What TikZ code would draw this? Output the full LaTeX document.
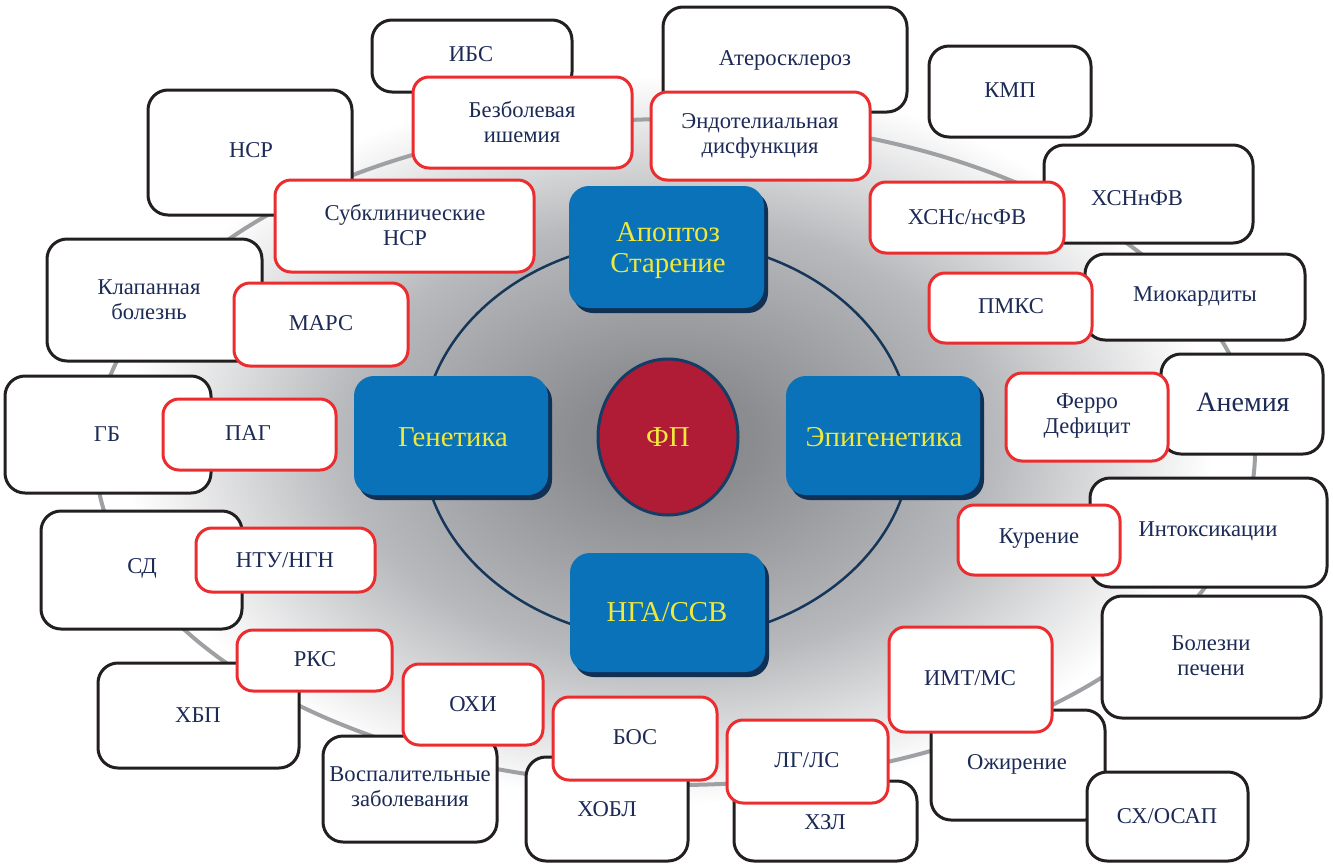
\documentclass[tikz,border=0pt]{standalone}
\usepackage{fontspec}
\setmainfont{Liberation Serif}
\usetikzlibrary{shadows,shapes.geometric}
\definecolor{navytext}{RGB}{28,42,86}
\definecolor{boxblack}{RGB}{35,31,32}
\definecolor{boxred}{RGB}{235,45,48}
\definecolor{ringgray}{RGB}{158,160,163}
\definecolor{innernavy}{RGB}{22,55,90}
\definecolor{bluefill}{RGB}{10,114,184}
\definecolor{blueshadow}{RGB}{16,48,86}
\definecolor{fpred}{RGB}{176,28,53}
\definecolor{fpborder}{RGB}{20,60,100}
\definecolor{ytext}{RGB}{240,232,60}
\definecolor{bgcA}{RGB}{134,136,140}
\definecolor{bgcB}{RGB}{138,140,144}
\definecolor{bgcC}{RGB}{184,185,188}
\pgfdeclareradialshading{bgshade}{\pgfpoint{0bp}{0bp}}{color(0bp)=(bgcA); color(4bp)=(bgcB); color(15bp)=(bgcC); color(25bp)=(white); color(50bp)=(white)}
\tikzset{
  blkbox/.style={draw=boxblack, line width=3pt, fill=white, rounded corners=20pt, inner sep=0pt},
  redbox/.style={draw=boxred, line width=3pt, fill=white, rounded corners=16pt, inner sep=0pt},
  txt/.style={text=navytext, align=center, inner sep=0pt, font=\fontsize{22.6}{25}\selectfont},
  ytxt/.style={text=ytext, align=center, inner sep=0pt, font=\fontsize{28.8}{31}\selectfont},
  bluebox/.style={fill=bluefill, rounded corners=20pt, inner sep=0pt,
    drop shadow={shadow xshift=4pt, shadow yshift=-5pt, fill=blueshadow, opacity=1}}
}
\newcommand\bx[9]{%
  \node[#1, minimum width={(#5-#3)*1pt}, minimum height={(#6-#4)*1pt}] (#2) at ({(#3+#5)/2},{(#4+#6)/2}) {};
  \node[txt] (#2-t) at (#7,#8) {#9};
}
\newcommand\bbx[8]{%
  \node[bluebox, minimum width={(#4-#2)*1pt}, minimum height={(#5-#3)*1pt}] (#1) at ({(#2+#4)/2},{(#3+#5)/2}) {};
  \node[ytxt] (#1-t) at (#6,#7) {#8};
}
\begin{document}
\begin{tikzpicture}[x=1pt,y=-1pt]
\useasboundingbox (0,0) rectangle (1333,863);
\fill[white] (0,0) rectangle (1333,863);
\shade[shading=bgshade] (668,440) ellipse [x radius=545, y radius=365];
\draw[ringgray, line width=4pt] (675,452) ellipse [x radius=580, y radius=333];
\draw[innernavy, line width=2.5pt] (667,440) ellipse [x radius=245, y radius=200];
% central blue boxes
\bbx{apop}{569}{186}{764}{308}{668}{251}{Апоптоз\\Старение}
\bbx{gen}{354}{376}{548}{495}{453}{437}{Генетика}
\bbx{epi}{786}{376}{980}{495}{884}{437}{Эпигенетика}
\bbx{nga}{570}{553}{765}{672}{667}{612}{НГА/ССВ}
\node[ellipse, draw=fpborder, line width=3pt, fill=fpred, minimum width=140pt, minimum height=156pt,
  inner sep=0pt] (fp) at (668,437) {};
\node[ytxt] (fp-t) at (668,437) {ФП};
% black boxes
\bx{blkbox}{ibs}{372}{20}{572}{92}{471}{54}{ИБС}
\bx{blkbox}{ather}{663}{7}{907}{112}{785}{60}{Атеросклероз}
\bx{blkbox}{kmp}{929}{46}{1091}{137}{1010}{90}{КМП}
\bx{blkbox}{nsr}{148}{90}{352}{215}{251}{150}{НСР}
\bx{blkbox}{hsnn}{1044}{145}{1253}{243}{1137}{198}{ХСНнФВ}
\bx{blkbox}{klap}{47}{239}{262}{361}{149}{300}{Клапанная\\болезнь}
\bx{blkbox}{miok}{1085}{254}{1305}{340}{1195}{296}{Миокардиты}
\bx{blkbox}{anem}{1161}{354}{1323}{454}{1243}{402}{{\fontsize{28}{31}\selectfont Анемия}}
\bx{blkbox}{gb}{5}{376}{211}{493}{107}{434}{ГБ}
\bx{blkbox}{intox}{1090}{478}{1327}{587}{1208}{531}{Интоксикации}
\bx{blkbox}{sd}{41}{511}{242}{629}{142}{568}{СД}
\bx{blkbox}{liver}{1102}{596}{1321}{718}{1211}{656}{Болезни\\печени}
\bx{blkbox}{hbp}{98}{663}{299}{768}{198}{715}{ХБП}
\bx{blkbox}{vosp}{323}{736}{497}{842}{410}{787}{Воспалительные\\заболевания}
\bx{blkbox}{hobl}{526}{757}{688}{861}{607}{809}{ХОБЛ}
\bx{blkbox}{hzl}{734}{781}{917}{861}{825}{822}{ХЗЛ}
\bx{blkbox}{ozhir}{931}{710}{1105}{820}{1017}{764}{Ожирение}
\bx{blkbox}{shosap}{1087}{772}{1248}{861}{1167}{816}{СХ/ОСАП}
% red boxes
\bx{redbox}{bezb}{413}{77}{632}{168}{522}{122}{Безболевая\\ишемия}
\bx{redbox}{endo}{651}{92}{870}{180}{760}{136}{Эндотелиальная\\дисфункция}
\bx{redbox}{subkl}{275}{180}{534}{272}{405}{225}{Субклинические\\НСР}
\bx{redbox}{hsnc}{870}{182}{1064}{253}{967}{217}{ХСНс/нсФВ}
\bx{redbox}{pmks}{929}{273}{1092}{343}{1011}{306}{ПМКС}
\bx{redbox}{mars}{234}{283}{408}{366}{321}{323}{МАРС}
\bx{redbox}{ferro}{1006}{373}{1168}{461}{1087}{416}{Ферро\\Дефицит}
\bx{redbox}{pag}{163}{399}{336}{470}{248}{433}{ПАГ}
\bx{redbox}{kur}{958}{505}{1120}{575}{1039}{539}{Курение}
\bx{redbox}{ntu}{196}{528}{375}{592}{285}{560}{НТУ/НГН}
\bx{redbox}{rks}{237}{630}{392}{691}{315}{659}{РКС}
\bx{redbox}{imt}{889}{627}{1052}{732}{970}{678}{ИМТ/МС}
\bx{redbox}{ohi}{403}{664}{543}{745}{473}{704}{ОХИ}
\bx{redbox}{bos}{553}{697}{717}{780}{635}{737}{БОС}
\bx{redbox}{lg}{727}{720}{888}{803}{807}{760}{ЛГ/ЛС}
\end{tikzpicture}
\end{document}
